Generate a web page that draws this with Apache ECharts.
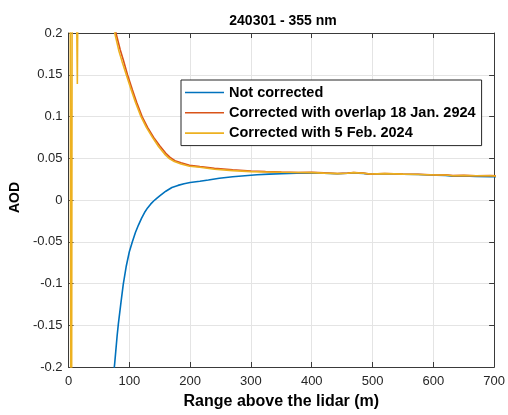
<!DOCTYPE html>
<html>
<head>
<meta charset="utf-8">
<script src="https://cdn.jsdelivr.net/npm/echarts@6/dist/echarts.min.js"></script>
<style>
html,body{margin:0;padding:0;background:#fff;}
#chart{width:508px;height:415px;}
</style>
</head>
<body>
<div id="chart"></div>
<script>
// ---- data ----
var seriesNames = ['Not corrected', 'Corrected with overlap 18 Jan. 2924', 'Corrected with 5 Feb. 2024'];

var rangeNotCorrected = [72, 76, 80, 82, 86, 90, 95, 100, 105, 110, 115, 120, 125, 130, 135, 140, 145, 150, 160, 170, 180, 190, 200, 216, 230, 248, 270, 290, 310, 330, 350, 375, 400, 420, 442, 459, 469, 485, 496, 520, 550, 575, 605, 620, 632, 650, 670, 694, 705];
var aodNotCorrected   = [-0.225, -0.195, -0.162, -0.148, -0.124, -0.101, -0.079, -0.062, -0.050, -0.039, -0.030, -0.022, -0.015, -0.0095, -0.005, -0.0012, 0.002, 0.005, 0.0105, 0.015, 0.0175, 0.0195, 0.021, 0.0225, 0.024, 0.026, 0.0278, 0.029, 0.0302, 0.031, 0.0315, 0.032, 0.0322, 0.032, 0.0315, 0.032, 0.0325, 0.0318, 0.031, 0.0315, 0.0308, 0.0305, 0.0296, 0.0295, 0.0285, 0.0288, 0.0282, 0.028, 0.0278];

var rangeOverlapJan = [74, 78, 85, 90, 97, 105, 112, 121, 130, 140, 150, 160, 167, 175, 185, 199, 216, 240, 270, 300, 324, 350, 378, 400, 420, 442, 459, 469, 485, 496, 520, 550, 575, 605, 620, 632, 650, 670, 694, 705];
var aodOverlapJan   = [0.225, 0.200, 0.180, 0.168, 0.150, 0.132, 0.117, 0.100, 0.087, 0.075, 0.065, 0.056, 0.051, 0.047, 0.0445, 0.0415, 0.040, 0.038, 0.0362, 0.0348, 0.034, 0.0335, 0.033, 0.0333, 0.0325, 0.0318, 0.0322, 0.033, 0.0322, 0.031, 0.0318, 0.031, 0.0308, 0.030, 0.0302, 0.0292, 0.0295, 0.029, 0.0292, 0.0288];

var rangeFeb = [2, 4.5, 6.5, 10, 14.5, 17.5, 74, 76, 83, 88, 95, 103, 110, 119, 128, 138, 148, 158, 165, 174, 185, 199, 216, 240, 270, 300, 324, 350, 378, 400, 420, 442, 459, 469, 485, 496, 520, 550, 575, 605, 620, 632, 650, 670, 694, 705];
var aodFeb   = [0.6, -0.6, 0.6, 0.45, 0.139, 0.5, 0.215, 0.200, 0.178, 0.166, 0.150, 0.132, 0.117, 0.100, 0.087, 0.075, 0.064, 0.055, 0.050, 0.046, 0.043, 0.0405, 0.0392, 0.0368, 0.0352, 0.034, 0.0336, 0.0332, 0.033, 0.0328, 0.0322, 0.0316, 0.032, 0.0328, 0.032, 0.0312, 0.0316, 0.031, 0.0306, 0.030, 0.030, 0.029, 0.0294, 0.029, 0.029, 0.0286];

var xTicks = [0, 100, 200, 300, 400, 500, 600, 700];
var yTicks = [-0.2, -0.15, -0.1, -0.05, 0, 0.05, 0.1, 0.15, 0.2];
var colors = ['#0072BD', '#D95319', '#EDB120'];

function pairs(xs, ys) { return xs.map(function (x, i) { return [x, ys[i]]; }); }

var axisColor = '#3a3a3a';
var gridColor = '#e4e4e4';
var font = 'Liberation Sans, Arial, Helvetica, sans-serif';
var lineIcon = 'path://M0,0H40V1.6H0Z';

var chart = echarts.init(document.getElementById('chart'), null, {renderer: 'canvas'});
chart.setOption({
  animation: false,
  backgroundColor: '#ffffff',
  color: colors,
  grid: {left: 67, top: 33, width: 432, height: 340, containLabel: false},
  graphic: [{
    type: 'text', x: 283, y: 21, z: 10,
    style: {text: '240301 - 355 nm', textAlign: 'center', textVerticalAlign: 'middle',
            font: 'bold 14px ' + font, fill: '#000'}
  }],
  legend: {
    orient: 'vertical', left: 181, top: 80,
    itemWidth: 39, itemHeight: 14, itemGap: 5.3,
    padding: [5, 6, 5, 4],
    icon: lineIcon, symbolKeepAspect: true,
    backgroundColor: '#ffffff', borderColor: '#262626', borderWidth: 1, borderRadius: 0,
    textStyle: {fontFamily: font, fontWeight: 'bold', fontSize: 14.5, color: '#000'},
    data: seriesNames.map(function (n) { return {name: n, icon: lineIcon}; })
  },
  xAxis: [{
    type: 'value', min: xTicks[0], max: xTicks[xTicks.length - 1], interval: 100,
    position: 'bottom',
    name: 'Range above the lidar (m)', nameLocation: 'middle', nameGap: 27,
    nameTextStyle: {fontFamily: font, fontWeight: 'bold', fontSize: 16, color: '#000'},
    axisLine: {show: true, onZero: false, lineStyle: {color: axisColor, width: 1}},
    axisTick: {show: true, inside: true, length: 5, lineStyle: {color: axisColor}},
    axisLabel: {margin: 8, fontFamily: font, fontSize: 13, color: '#262626'},
    splitLine: {show: true, lineStyle: {color: gridColor, width: 1}}
  }, {
    type: 'value', min: xTicks[0], max: xTicks[xTicks.length - 1], interval: 100,
    position: 'top',
    axisLine: {show: true, onZero: false, lineStyle: {color: axisColor, width: 1}},
    axisTick: {show: true, inside: true, length: 5, lineStyle: {color: axisColor}},
    axisLabel: {show: false}, splitLine: {show: false}
  }],
  yAxis: [{
    type: 'value', min: yTicks[0], max: yTicks[yTicks.length - 1], interval: 0.05,
    position: 'left',
    name: 'AOD', nameLocation: 'middle', nameGap: 30, nameRotate: 90,
    nameTextStyle: {fontFamily: font, fontWeight: 'bold', fontSize: 14, color: '#000', padding: [0, 0, 0, 5]},
    axisLine: {show: true, onZero: false, lineStyle: {color: axisColor, width: 1}},
    axisTick: {show: true, inside: true, length: 5, lineStyle: {color: axisColor}},
    axisLabel: {margin: 6, fontFamily: font, fontSize: 13, color: '#262626',
                formatter: function (v) { return String(+v.toFixed(2)); }},
    splitLine: {show: true, lineStyle: {color: gridColor, width: 1}}
  }, {
    type: 'value', min: yTicks[0], max: yTicks[yTicks.length - 1], interval: 0.05,
    position: 'right',
    axisLine: {show: true, onZero: false, lineStyle: {color: axisColor, width: 1}},
    axisTick: {show: true, inside: true, length: 5, lineStyle: {color: axisColor}},
    axisLabel: {show: false}, splitLine: {show: false}
  }],
  series: [{
    name: seriesNames[0], type: 'line', symbol: 'none', clip: true,
    lineStyle: {width: 1.6, color: colors[0]}, itemStyle: {color: colors[0]},
    data: pairs(rangeNotCorrected, aodNotCorrected), z: 2
  }, {
    name: seriesNames[1], type: 'line', symbol: 'none', clip: true,
    lineStyle: {width: 1.6, color: colors[1]}, itemStyle: {color: colors[1]},
    data: pairs(rangeOverlapJan, aodOverlapJan), z: 3
  }, {
    name: seriesNames[2], type: 'line', symbol: 'none', clip: true,
    lineStyle: {width: 1.6, color: colors[2]}, itemStyle: {color: colors[2]},
    data: pairs(rangeFeb, aodFeb), z: 4
  }]
});
</script>
</body>
</html>
